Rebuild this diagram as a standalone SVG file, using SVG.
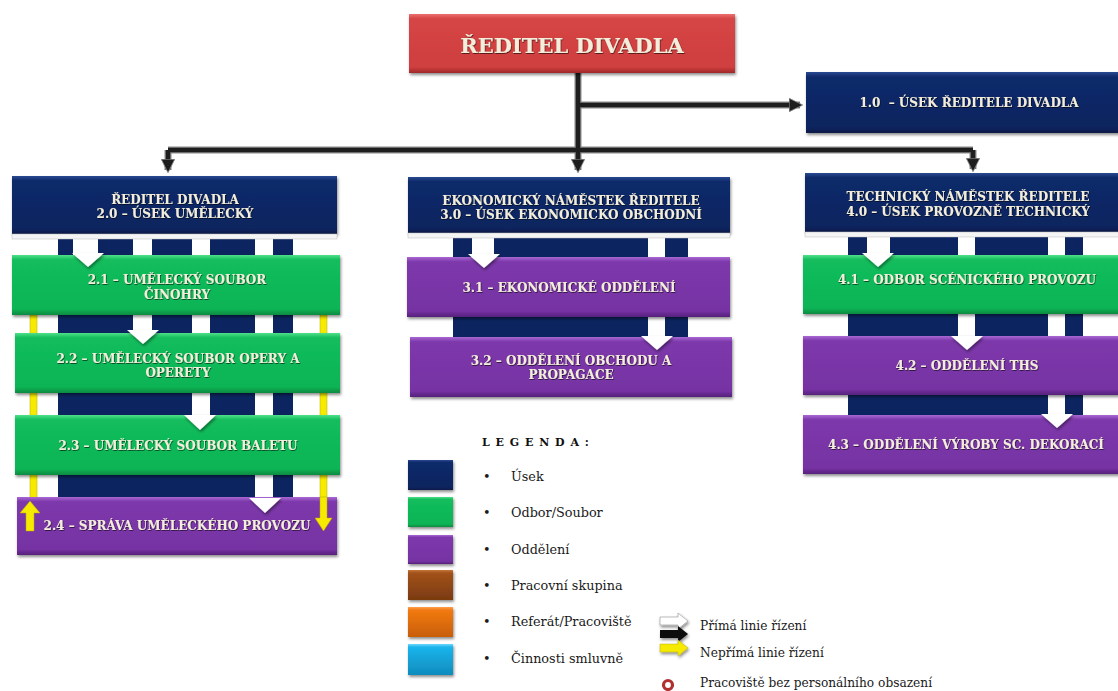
<svg xmlns="http://www.w3.org/2000/svg" width="1118" height="691" viewBox="0 0 1118 691">
<defs>
<linearGradient id="gNavy" x1="0" y1="0" x2="0" y2="1"><stop offset="0" stop-color="#2a4a92"/><stop offset="0.08" stop-color="#102a6a"/><stop offset="0.9" stop-color="#0c2560"/><stop offset="1" stop-color="#081a48"/></linearGradient>
<linearGradient id="gGreen" x1="0" y1="0" x2="0" y2="1"><stop offset="0" stop-color="#4fe08a"/><stop offset="0.08" stop-color="#12bd5c"/><stop offset="0.9" stop-color="#0fb455"/><stop offset="1" stop-color="#0a8a40"/></linearGradient>
<linearGradient id="gPurple" x1="0" y1="0" x2="0" y2="1"><stop offset="0" stop-color="#a969d4"/><stop offset="0.08" stop-color="#7d38ab"/><stop offset="0.9" stop-color="#7633a3"/><stop offset="1" stop-color="#56207c"/></linearGradient>
<linearGradient id="gRed" x1="0" y1="0" x2="0" y2="1"><stop offset="0" stop-color="#ec7070"/><stop offset="0.08" stop-color="#d64545"/><stop offset="0.9" stop-color="#cf3f3f"/><stop offset="1" stop-color="#a02828"/></linearGradient>
<linearGradient id="gBrown" x1="0" y1="0" x2="0" y2="1"><stop offset="0" stop-color="#c8773a"/><stop offset="0.1" stop-color="#a2521a"/><stop offset="1" stop-color="#7a3a10"/></linearGradient>
<linearGradient id="gOrange" x1="0" y1="0" x2="0" y2="1"><stop offset="0" stop-color="#ffa050"/><stop offset="0.1" stop-color="#f27a12"/><stop offset="1" stop-color="#c85e06"/></linearGradient>
<linearGradient id="gCyan" x1="0" y1="0" x2="0" y2="1"><stop offset="0" stop-color="#6fd8ff"/><stop offset="0.1" stop-color="#1ab4ec"/><stop offset="1" stop-color="#0f8cbc"/></linearGradient>
<filter id="sh" x="-10%" y="-20%" width="120%" height="150%"><feDropShadow dx="1" dy="2" stdDeviation="1.5" flood-color="#000" flood-opacity="0.45"/></filter>
<filter id="tsh" x="-10%" y="-30%" width="120%" height="160%"><feDropShadow dx="0.6" dy="0.8" stdDeviation="0.4" flood-color="#000" flood-opacity="0.7"/></filter>
<marker id="ah" viewBox="0 0 10 10" refX="8" refY="5" markerWidth="3" markerHeight="3" orient="auto" markerUnits="strokeWidth"><path d="M0,0 L10,5 L0,10 z" fill="#1e1e1e" stroke="#888" stroke-width="0.6"/></marker>
<style>
.bx{filter:url(#sh);}
.navy{fill:url(#gNavy);}
.green{fill:url(#gGreen);}
.purple{fill:url(#gPurple);}
.red{fill:url(#gRed);}
.t{font-family:"DejaVu Serif","Liberation Serif",serif;font-weight:bold;fill:#f3eedb;text-anchor:middle;font-size:12px;filter:url(#tsh);}
.tl{font-size:21px;}
.bg{fill:#0c2560;}
.sh{fill:#ffffff;}
.wa{fill:#ffffff;filter:url(#sh);}
.band{fill:#f4f4f4;stroke:#bbb;stroke-width:0.5;}
.yl{fill:#f5ea00;stroke:#b8ad00;stroke-width:0.5;}
.ln0{fill:none;stroke:#8a8a8a;stroke-width:7;}
.ln{fill:none;stroke:#1e1e1e;stroke-width:4.5;}
.lg{font-family:"DejaVu Serif","Liberation Serif",serif;font-size:12.8px;fill:#1a1a1a;}
.lgs{font-family:"DejaVu Serif","Liberation Serif",serif;font-size:12.2px;fill:#1a1a1a;}
</style>
</defs>
<rect width="1118" height="691" fill="#ffffff"/>

<g id="pillars">
<rect class="bg" x="58" y="234" width="235" height="263"/>
<rect class="sh" x="73" y="234" width="25" height="24"/>
<rect class="sh" x="133" y="234" width="19" height="100"/>
<rect class="sh" x="192" y="234" width="18" height="182"/>
<rect class="sh" x="255" y="234" width="18" height="264"/>
<rect class="yl" x="30" y="315" width="7" height="183"/>
<rect class="yl" x="320" y="315" width="7" height="183"/>

<rect class="bg" x="453" y="236" width="235" height="102"/>
<rect class="sh" x="472" y="236" width="22" height="22"/>
<rect class="sh" x="648" y="236" width="17" height="102"/>

<rect class="bg" x="848" y="235" width="235" height="181"/>
<rect class="sh" x="867" y="235" width="23" height="21"/>
<rect class="sh" x="958" y="228" width="17" height="109"/>
<rect class="sh" x="1048" y="235" width="17" height="181"/>
</g>

<g id="connectors">
<path class="ln0" d="M578,73 V170 M578,105 H800 M168,150 H973 M168,150 V170 M973,150 V169"/>
<path class="ln" d="M578,73 V170" marker-end="url(#ah)"/>
<path class="ln" d="M578,105 H800" marker-end="url(#ah)"/>
<path class="ln" d="M168,150 H973"/>
<path class="ln" d="M168,150 V170" marker-end="url(#ah)"/>
<path class="ln" d="M973,150 V169" marker-end="url(#ah)"/>
</g>

<g id="n-reditel">
<rect class="bx red" x="409" y="14" width="326" height="59"/>
<text class="t tl" x="572" y="53">ŘEDITEL DIVADLA</text>
</g>

<g id="n-1-0">
<rect class="bx navy" x="806" y="72" width="318" height="61"/>
<text class="t" x="969" y="107" xml:space="preserve">1.0  – ÚSEK ŘEDITELE DIVADLA</text>
</g>

<g id="n-2-0">
<rect class="bx navy" x="12" y="176" width="325" height="58"/>
<rect class="band" x="12" y="234" width="325" height="5"/>
<text class="t" x="175" y="204">ŘEDITEL DIVADLA</text>
<text class="t" x="175" y="218">2.0 – ÚSEK UMĚLECKÝ</text>
</g>

<g id="n-3-0">
<rect class="bx navy" x="408" y="177" width="322" height="56"/>
<rect class="band" x="408" y="233" width="322" height="5"/>
<text class="t" x="571" y="205">EKONOMICKÝ NÁMĚSTEK ŘEDITELE</text>
<text class="t" x="571" y="219">3.0 – ÚSEK EKONOMICKO OBCHODNÍ</text>
</g>

<g id="n-4-0">
<rect class="bx navy" x="805" y="173" width="320" height="59"/>
<rect class="band" x="805" y="232" width="320" height="5"/>
<text class="t" x="968" y="201">TECHNICKÝ NÁMĚSTEK ŘEDITELE</text>
<text class="t" x="968" y="216">4.0 – ÚSEK PROVOZNĚ TECHNICKÝ</text>
</g>

<g id="n-2-1">
<rect class="bx green" x="12" y="255" width="328" height="60"/>
<text class="t" x="177" y="284">2.1 – UMĚLECKÝ SOUBOR</text>
<text class="t" x="177" y="299">ČINOHRY</text>
</g>
<g id="n-2-2">
<rect class="bx green" x="15" y="333" width="325" height="60"/>
<text class="t" x="178" y="363">2.2 – UMĚLECKÝ SOUBOR OPERY A</text>
<text class="t" x="178" y="377">OPERETY</text>
</g>
<g id="n-2-3">
<rect class="bx green" x="15" y="415" width="325" height="60"/>
<text class="t" x="178" y="450">2.3 – UMĚLECKÝ SOUBOR BALETU</text>
</g>
<g id="n-2-4">
<rect class="bx purple" x="17" y="497" width="320" height="58"/>
<text class="t" x="177" y="530">2.4 – SPRÁVA UMĚLECKÉHO PROVOZU</text>
<polygon class="yl" points="26,531 34,531 34,513 40,513 30,501 20,513 26,513"/>
<polygon class="yl" points="320,497 327,497 327,518 332,518 323.5,531 315,518 320,518"/>
</g>

<g id="n-3-1">
<rect class="bx purple" x="407" y="257" width="323" height="60"/>
<text class="t" x="569" y="292">3.1 – EKONOMICKÉ ODDĚLENÍ</text>
</g>
<g id="n-3-2">
<rect class="bx purple" x="410" y="337" width="322" height="60"/>
<text class="t" x="571" y="365">3.2 – ODDĚLENÍ OBCHODU A</text>
<text class="t" x="571" y="379">PROPAGACE</text>
</g>

<g id="n-4-1">
<rect class="bx green" x="803" y="255" width="320" height="59"/>
<text class="t" x="967" y="284">4.1 – ODBOR SCÉNICKÉHO PROVOZU</text>
</g>
<g id="n-4-2">
<rect class="bx purple" x="803" y="336" width="320" height="59"/>
<text class="t" x="967" y="370">4.2 – ODDĚLENÍ THS</text>
</g>
<g id="n-4-3">
<rect class="bx purple" x="803" y="415" width="320" height="59"/>
<text class="t" x="966" y="449">4.3 – ODDĚLENÍ VÝROBY SC. DEKORACÍ</text>
</g>

<g id="direct-arrows">
<polygon class="wa" points="72,253 104,253 88,267"/>
<polygon class="wa" points="127,330 159,330 143,344"/>
<polygon class="wa" points="184,415 216,415 200,430"/>
<polygon class="wa" points="249,498 281,498 265,513"/>
<polygon class="wa" points="468,254 500,254 484,268"/>
<polygon class="wa" points="641,336 673,336 657,350"/>
<polygon class="wa" points="862,253 894,253 878,267"/>
<polygon class="wa" points="951,336 983,336 967,350"/>
<polygon class="wa" points="1041,414 1073,414 1057,428"/>
</g>

<g id="legend">
<text x="482" y="446" font-family="DejaVu Serif, Liberation Serif, serif" font-weight="bold" font-size="11" fill="#111" letter-spacing="1">L E G E N D A :</text>
<rect class="bx navy" x="408" y="460" width="45" height="30"/>
<rect class="bx green" x="408" y="497" width="45" height="30"/>
<rect class="bx purple" x="408" y="535" width="45" height="29"/>
<rect class="bx" fill="url(#gBrown)" x="408" y="570" width="45" height="30"/>
<rect class="bx" fill="url(#gOrange)" x="408" y="607" width="45" height="30"/>
<rect class="bx" fill="url(#gCyan)" x="408" y="644" width="45" height="31"/>
<g class="lg">
<text x="483" y="481">•</text><text x="511" y="481">Úsek</text>
<text x="483" y="517">•</text><text x="511" y="517">Odbor/Soubor</text>
<text x="483" y="554">•</text><text x="511" y="554">Oddělení</text>
<text x="483" y="590">•</text><text x="511" y="590">Pracovní skupina</text>
<text x="483" y="626">•</text><text x="511" y="626">Referát/Pracoviště</text>
<text x="483" y="663">•</text><text x="511" y="663">Činnosti smluvně</text>
</g>
<polygon class="bx" fill="#ffffff" stroke="#aaa" stroke-width="0.8" points="660,617 678,617 678,613 688,621 678,629 678,625 660,625"/>
<polygon class="bx" fill="#111" points="660,630 678,630 678,626 688,634 678,642 678,638 660,638"/>
<polygon class="bx" fill="#f5ea00" stroke="#b8ad00" stroke-width="0.5" points="660,644 678,644 678,640 688,648 678,656 678,652 660,652"/>
<circle cx="668" cy="685" r="4.5" fill="none" stroke="#b03030" stroke-width="3.2"/>
<g class="lgs">
<text x="700" y="630">Přímá linie řízení</text>
<text x="700" y="657">Nepřímá linie řízení</text>
<text x="700" y="687">Pracoviště bez personálního obsazení</text>
</g>
</g>
</svg>
